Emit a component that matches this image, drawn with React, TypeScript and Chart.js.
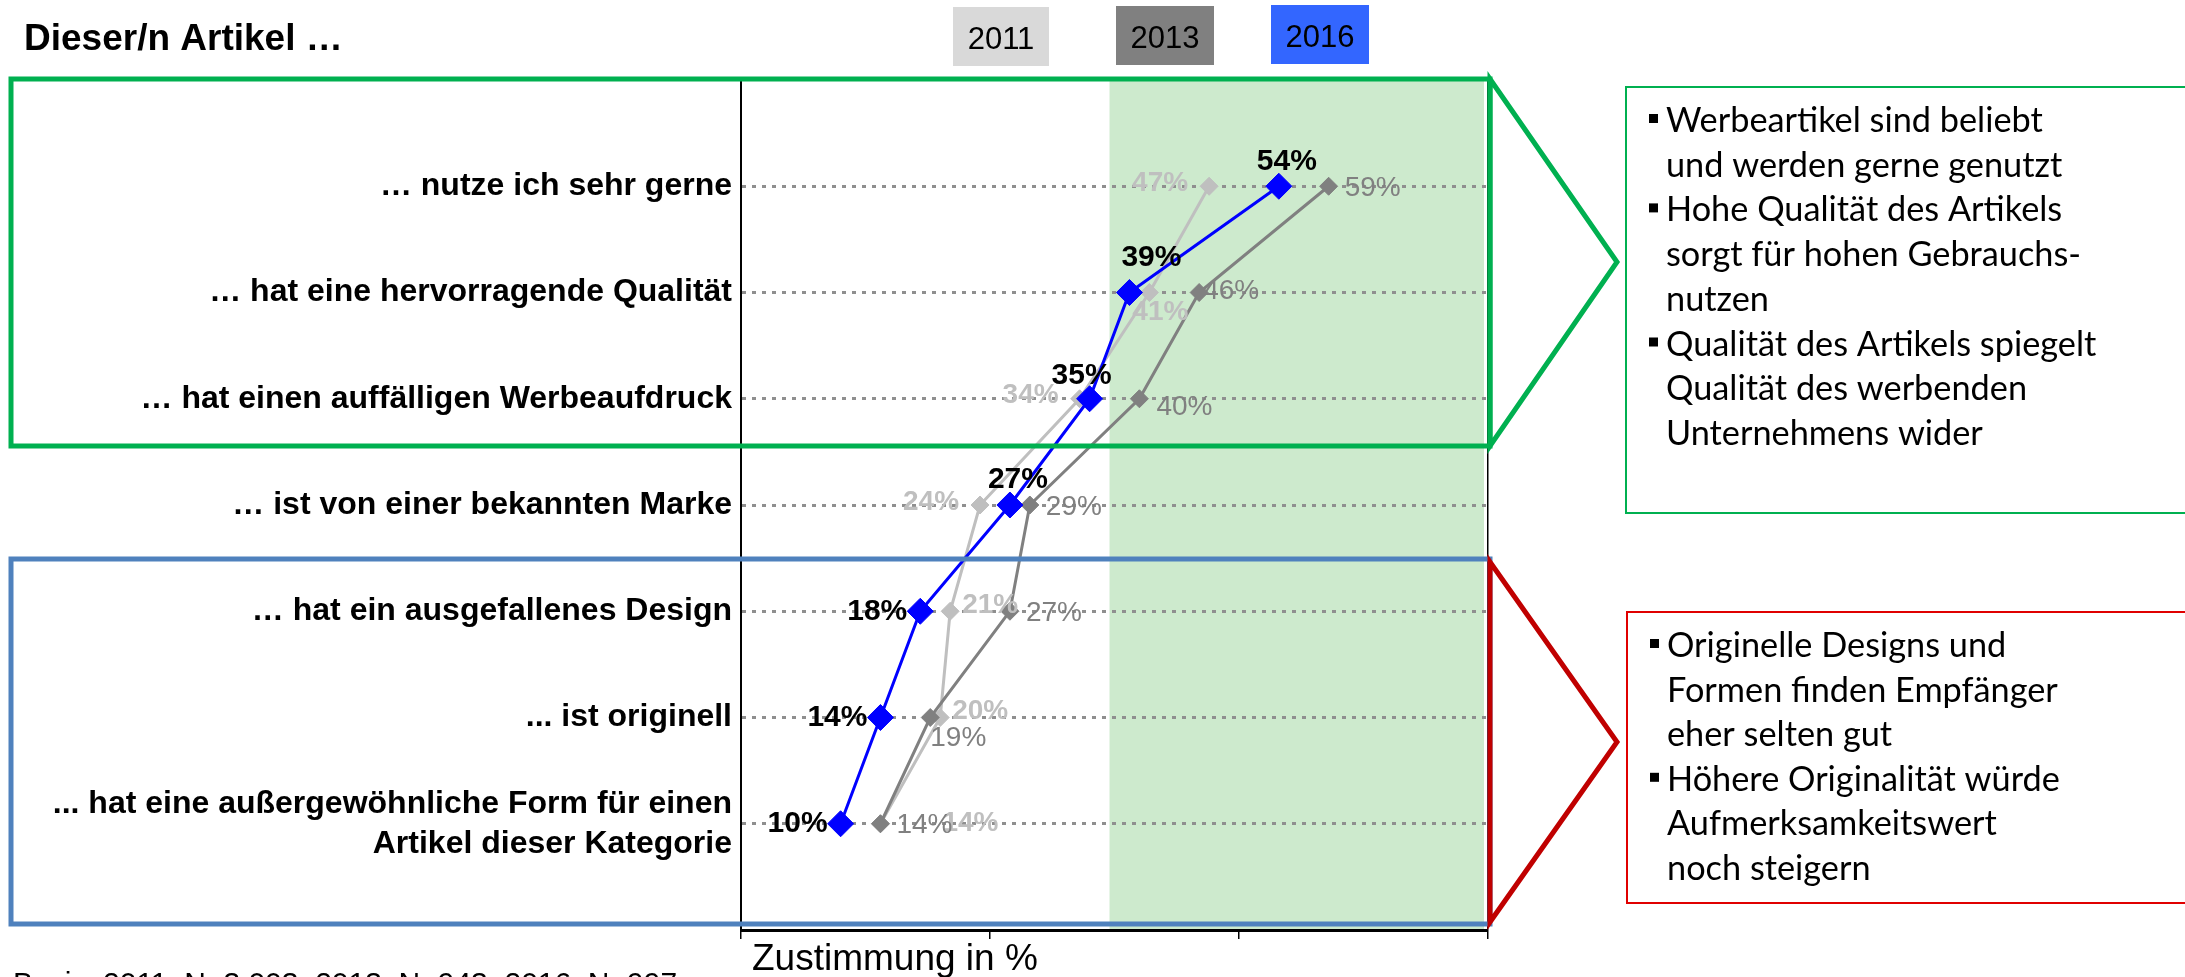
import React, { useEffect, useRef } from 'react';
import { Chart, registerables } from 'chart.js';

Chart.register(...registerables);

// ---------- data ----------
const categories: (string | string[])[] = [
  '… nutze ich sehr gerne',
  '… hat eine hervorragende Qualität',
  '… hat einen auffälligen Werbeaufdruck',
  '… ist von einer bekannten Marke',
  '… hat ein ausgefallenes Design',
  '... ist originell',
  ['... hat eine außergewöhnliche Form für einen', 'Artikel dieser Kategorie'],
];
const years = ['2011', '2013', '2016'];
const values2011 = [47, 41, 34, 24, 21, 20, 14];
const values2013 = [59, 46, 40, 29, 27, 19, 14];
const values2016 = [54, 39, 35, 27, 18, 14, 10];
const xTicks = [0, 25, 50, 75];
const highlightRange = [37, 75];

// label placement codes per point
const place2011 = ['LF', 'B', 'LF', 'LF', 'RU', 'RU', 'RR'];
const place2013 = ['R', 'RN', 'BR', 'R', 'R', 'BB', 'R'];
const place2016 = ['A', 'AR', 'AL', 'A', 'L', 'L', 'L'];

const titleText = 'Dieser/n Artikel …';
const axisTitle = 'Zustimmung in %';
const footnote = 'Basis: 2011: N=3.003, 2013: N=943, 2016: N=997';

const greenNotes: [boolean, string][] = [
  [true, 'Werbeartikel sind beliebt'],
  [false, 'und werden gerne genutzt'],
  [true, 'Hohe Qualität des Artikels'],
  [false, 'sorgt für hohen Gebrauchs-'],
  [false, 'nutzen'],
  [true, 'Qualität des Artikels spiegelt'],
  [false, 'Qualität des werbenden'],
  [false, 'Unternehmens wider'],
];
const redNotes: [boolean, string][] = [
  [true, 'Originelle Designs und'],
  [false, 'Formen finden Empfänger'],
  [false, 'eher selten gut'],
  [true, 'Höhere Originalität würde'],
  [false, 'Aufmerksamkeitswert'],
  [false, 'noch steigern'],
];

// ---------- styles ----------
const FONT = "'Liberation Sans', Arial, sans-serif";
const NARROW = "'Liberation Sans Narrow', 'Liberation Sans', Arial, sans-serif";
const NOTE_FONT = "Lato, 'Open Sans', sans-serif";
const lineColors = ['#bfbfbf', '#808080', '#0000ff'];
const pointRadii = [9, 9, 13];
const drawOrder = [3, 2, 1];
const legendFills = ['#d9d9d9', '#808080', '#3366ff'];
const labelStyles = [
  { color: '#bfbfbf', weight: 'bold', size: 28 },
  { color: '#808080', weight: 'normal', size: 28 },
  { color: '#000000', weight: 'bold', size: 30 },
];
const placements = [place2011, place2013, place2016];
const seriesValues = [values2011, values2013, values2016];

function labelOffset(p: string, r: number): [number, number, CanvasTextAlign] {
  switch (p) {
    case 'A': return [8, -r - 12, 'center'];
    case 'AR': return [22, -r - 22, 'center'];
    case 'AL': return [-8, -r - 10, 'center'];
    case 'L': return [-r, 0, 'right'];
    case 'LF': return [-r - 12, -3, 'right'];
    case 'R': return [r + 7, 2, 'left'];
    case 'RN': return [r - 5, -1, 'left'];
    case 'RU': return [r + 3, -6, 'left'];
    case 'BR': return [r + 8, 9, 'left'];
    case 'BB': return [0, 21, 'left'];
    case 'B': return [11, 20, 'center'];
    case 'RR': return [r + 53, 0, 'left'];
    default: return [0, 0, 'center'];
  }
}

const shadePlugin = {
  id: 'shade',
  beforeDraw(chart: any) {
    const { ctx, chartArea, scales } = chart;
    const x0 = scales.x.getPixelForValue(highlightRange[0]);
    const x1 = scales.x.getPixelForValue(highlightRange[1]);
    ctx.save();
    ctx.fillStyle = '#cdeacd';
    ctx.fillRect(x0, chartArea.top, x1 - x0 - 4, chartArea.bottom - chartArea.top);
    ctx.restore();
  },
};

const labelPlugin = {
  id: 'pointLabels',
  afterDatasetsDraw(chart: any) {
    const ctx = chart.ctx;
    ctx.save();
    chart.data.datasets.forEach((ds: any, di: number) => {
      const meta = chart.getDatasetMeta(di);
      const st = labelStyles[di];
      ctx.font = `${st.weight} ${st.size}px ${FONT}`;
      ctx.fillStyle = st.color;
      ctx.textBaseline = 'middle';
      meta.data.forEach((pt: any, i: number) => {
        const { x, y } = pt.getProps(['x', 'y'], true);
        const [dx, dy, align] = labelOffset(placements[di][i], pointRadii[di]);
        ctx.textAlign = align;
        ctx.fillText(`${seriesValues[di][i]}%`, x + dx, y + dy);
      });
    });
    ctx.restore();
  },
};

function drawNotes(ctx: CanvasRenderingContext2D, notes: [boolean, string][], x: number, y0: number, step: number) {
  ctx.font = `34.3px ${NOTE_FONT}`;
  ctx.fillStyle = '#000';
  ctx.textAlign = 'left';
  ctx.textBaseline = 'alphabetic';
  notes.forEach(([bullet, t], i) => {
    const by = y0 + i * step;
    if (bullet) ctx.fillRect(x - 17, by - 18, 9, 9);
    ctx.fillText(t, x, by);
  });
}

const overlayPlugin = {
  id: 'overlay',
  afterDraw(chart: any) {
    const ctx: CanvasRenderingContext2D = chart.ctx;
    ctx.save();
    ctx.lineJoin = 'miter';

    // title
    ctx.fillStyle = '#000';
    ctx.font = `bold 37px ${FONT}`;
    ctx.textAlign = 'left';
    ctx.textBaseline = 'alphabetic';
    ctx.fillText(titleText, 24, 50);

    // legend boxes
    const boxes = [[953, 7, 96], [1116, 6, 98], [1271, 5, 98]];
    years.forEach((yr, i) => {
      const [bx, by, bw] = boxes[i];
      ctx.fillStyle = legendFills[i];
      ctx.fillRect(bx, by, bw, 59);
      ctx.fillStyle = '#000';
      ctx.font = `31px ${NARROW}`;
      ctx.textAlign = 'center';
      ctx.fillText(yr, bx + bw / 2, by + 42);
    });

    // green group box + arrow
    ctx.strokeStyle = '#00b050';
    ctx.lineWidth = 5;
    ctx.strokeRect(11, 79, 1479, 367);
    ctx.beginPath();
    ctx.moveTo(1490, 79);
    ctx.lineTo(1617, 262);
    ctx.lineTo(1490, 446);
    ctx.closePath();
    ctx.stroke();

    // blue group box + red arrow
    ctx.strokeStyle = '#4f81bd';
    ctx.lineWidth = 5;
    ctx.strokeRect(11, 559, 1479, 365);
    ctx.strokeStyle = '#c00000';
    ctx.beginPath();
    ctx.moveTo(1490, 562);
    ctx.lineTo(1617, 742);
    ctx.lineTo(1490, 922);
    ctx.closePath();
    ctx.stroke();

    // note boxes
    ctx.lineWidth = 2;
    ctx.strokeStyle = '#00b050';
    ctx.strokeRect(1626, 87, 620, 426);
    ctx.strokeStyle = '#e00000';
    ctx.strokeRect(1627, 612, 620, 291);
    drawNotes(ctx, greenNotes, 1666, 132, 44.7);
    drawNotes(ctx, redNotes, 1667, 657, 44.6);

    // axis title
    ctx.fillStyle = '#000';
    ctx.font = `37px ${FONT}`;
    ctx.textAlign = 'left';
    ctx.fillText(axisTitle, chart.chartArea.left + 11, 970);

    // footnote (cut at the bottom)
    ctx.font = `30px ${FONT}`;
    ctx.fillText(footnote, 13, 993);
    ctx.restore();
  },
};

function makeDataset(i: number) {
  return {
    label: years[i],
    data: seriesValues[i].map((v, k) => ({ x: v, y: k + 1 })),
    borderColor: lineColors[i],
    backgroundColor: lineColors[i],
    borderWidth: 3,
    pointStyle: 'rectRot',
    pointRadius: pointRadii[i],
    pointBackgroundColor: lineColors[i],
    pointBorderColor: lineColors[i],
    pointBorderWidth: 1,
    tension: 0,
    order: drawOrder[i],
    clip: false,
  };
}

export default function App() {
  const ref = useRef<HTMLCanvasElement>(null);
  useEffect(() => {
    const canvas = ref.current!;
    const chart = new Chart(canvas, {
      type: 'line',
      data: { datasets: [makeDataset(0), makeDataset(1), makeDataset(2)] as any },
      options: {
        responsive: false,
        animation: false,
        devicePixelRatio: 1,
        layout: { padding: { left: 0, top: 80, right: 697, bottom: 38 } },
        plugins: { legend: { display: false }, tooltip: { enabled: false } },
        scales: {
          x: {
            type: 'linear',
            min: xTicks[0],
            max: xTicks[xTicks.length - 1],
            afterBuildTicks: (s: any) => { s.ticks = xTicks.map((v) => ({ value: v })); },
            afterFit: (s: any) => { s.paddingLeft = 0; s.paddingRight = 0; },
            ticks: { display: false },
            grid: {
              color: (c: any) => (c.tick && c.tick.value === xTicks[xTicks.length - 1] ? '#000' : 'rgba(0,0,0,0)'),
              lineWidth: 1.5,
              tickColor: '#000',
              tickWidth: 1.5,
              tickLength: 9,
              drawTicks: true,
            },
            border: { color: '#000', width: 3 },
          },
          y: {
            type: 'linear',
            min: 0,
            max: categories.length + 1,
            reverse: true,
            afterBuildTicks: (s: any) => { s.ticks = categories.map((_, i) => ({ value: i + 1 })); },
            afterFit: (s: any) => { s.width = 741; s.paddingTop = 0; s.paddingBottom = 0; },
            ticks: {
              autoSkip: false,
              padding: 9,
              color: '#000',
              font: { family: FONT, size: 32, weight: 'bold', lineHeight: 1.25 },
              callback: (v: any) => categories[Number(v) - 1] as any,
            },
            grid: { color: '#8f8f8f', lineWidth: 3, drawTicks: false },
            border: { color: '#000', width: 2, dash: [4, 6] },
          },
        },
      } as any,
      plugins: [shadePlugin, labelPlugin, overlayPlugin],
    });
    return () => chart.destroy();
  }, []);
  return (
    <canvas
      ref={ref}
      width={2185}
      height={977}
      style={{ position: 'fixed', left: 0, top: 0, width: 2185, height: 977, background: '#fff' }}
    />
  );
}
